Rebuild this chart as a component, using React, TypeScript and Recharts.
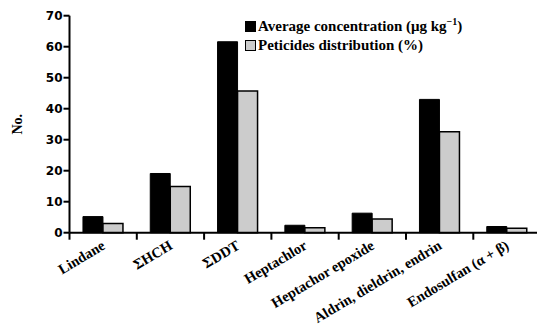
import React from 'react';
import { BarChart, Bar, XAxis, YAxis, Legend } from 'recharts';

const categories = ['Lindane', 'ΣHCH', 'ΣDDT', 'Heptachlor', 'Heptachor epoxide', 'Aldrin, dieldrin, endrin', 'Endosulfan (α + β)'];
const avgConcentration = [5.2, 19.1, 61.6, 2.4, 6.3, 43.0, 2.0];
const distribution = [3.0, 14.9, 45.7, 1.6, 4.4, 32.6, 1.4];
const yTicks = [0, 10, 20, 30, 40, 50, 60, 70];
const seriesNames = ['Average concentration (μg kg⁻¹)', 'Peticides distribution (%)'];

const data = categories.map((name, i) => ({ name, avg: avgConcentration[i], dist: distribution[i] }));

const SERIF = '"Liberation Serif", "Times New Roman", serif';
const SANS = '"DejaVu Sans", sans-serif';

const XTick = (props: any) => {
  const { x, y, payload } = props;
  const half = payload && typeof payload.offset === 'number' ? payload.offset : 0;
  const ax = x + 3;
  const ay = y + 15.5;
  return (
    <g>
      <line x1={x - half} x2={x - half} y1={y} y2={y + 7} stroke="#000" strokeWidth={2} />
      <text
        x={ax}
        y={ay}
        textAnchor="end"
        transform={`rotate(-31, ${ax}, ${ay})`}
        style={{ fontFamily: SERIF, fontWeight: 'bold', fontSize: 14.5 }}
        fill="#000"
      >
        {payload.value}
      </text>
    </g>
  );
};

const LegendContent = () => (
  <div style={{ fontFamily: SERIF, fontWeight: 'bold', fontSize: 15, color: '#000', lineHeight: '19px', whiteSpace: 'nowrap' }}>
    <div style={{ display: 'flex', alignItems: 'center' }}>
      <span style={{ display: 'inline-block', width: 11, height: 11, background: '#000', marginRight: 2, boxSizing: 'border-box' }} />
      <span>
        Average concentration (μg kg<sup style={{ fontSize: 10, lineHeight: 0 }}>−1</sup>)
      </span>
    </div>
    <div style={{ display: 'flex', alignItems: 'center' }}>
      <span style={{ display: 'inline-block', width: 11, height: 11, background: '#cccccc', border: '1.5px solid #000', marginRight: 2, boxSizing: 'border-box' }} />
      <span>{seriesNames[1]}</span>
    </div>
  </div>
);

export default function App() {
  return (
    <div style={{ position: 'absolute', left: 0, top: 0, width: 537, height: 326, overflow: 'hidden', background: '#fff' }}>
      <BarChart
        width={545}
        height={326}
        data={data}
        margin={{ top: 15.7, right: 4.4, bottom: 0, left: 0 }}
        barGap={0}
        barCategoryGap="20%"
      >
        <XAxis
          dataKey="name"
          interval={0}
          height={93.3}
          axisLine={{ stroke: '#000', strokeWidth: 2 }}
          tickLine={false}
          tickSize={0}
          tickMargin={0}
          tick={<XTick />}
        />
        <YAxis
          domain={[0, 70]}
          ticks={yTicks}
          width={69.5}
          axisLine={{ stroke: '#000', strokeWidth: 2 }}
          tickLine={{ stroke: '#000', strokeWidth: 2 }}
          tickSize={6}
          tickMargin={1}
          tick={{ fontFamily: SANS, fontWeight: 'bold', fontSize: 12, fill: '#000' }}
          label={{ value: 'No.', angle: -90, position: 'insideLeft', offset: 17, style: { fontFamily: SERIF, fontWeight: 'bold', fontSize: 14, fill: '#000', textAnchor: 'middle' } }}
        />
        <Legend
          layout="vertical"
          align="center"
          verticalAlign="middle"
          wrapperStyle={{ left: 245, top: 17, width: 280 }}
          content={<LegendContent />}
        />
        <Bar dataKey="avg" name={seriesNames[0]} fill="#000" stroke="#000" strokeWidth={1} isAnimationActive={false} />
        <Bar dataKey="dist" name={seriesNames[1]} fill="#cccccc" stroke="#000" strokeWidth={1.5} isAnimationActive={false} />
      </BarChart>
    </div>
  );
}
